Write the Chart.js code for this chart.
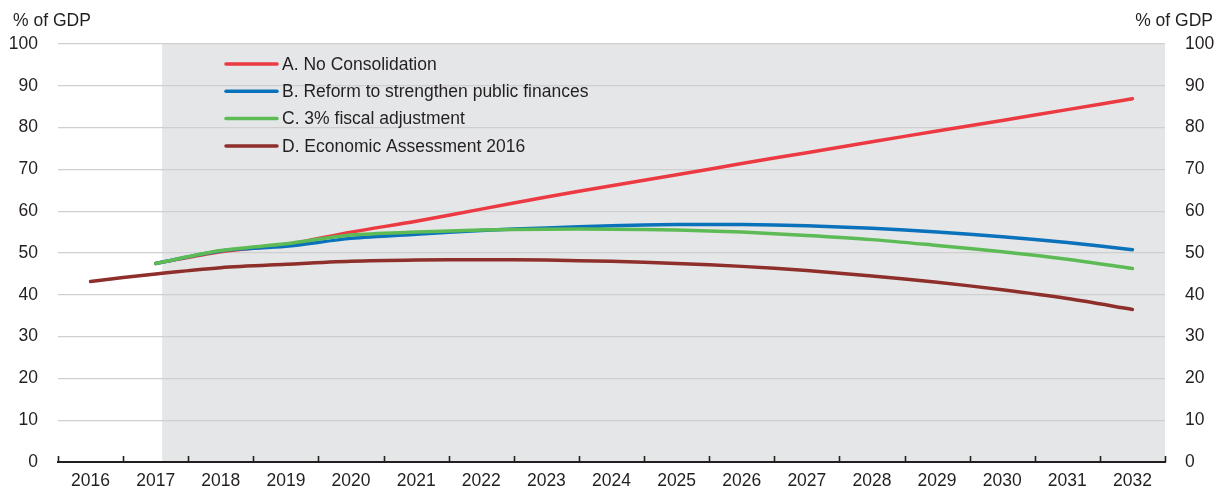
<!DOCTYPE html>
<html>
<head>
<meta charset="utf-8">
<script src="https://cdn.jsdelivr.net/npm/chart.js@4/dist/chart.umd.min.js"></script>
<style>
  body { margin: 0; background: #fff; }
  #wrap { width: 1216px; height: 489px; }
  canvas { display: block; }
</style>
</head>
<body>
<div id="wrap"><canvas id="debtChart" width="1216" height="489"></canvas></div>
<script>
const years = ['2016', '2017', '2018', '2019', '2020', '2021', '2022', '2023', '2024',
  '2025', '2026', '2027', '2028', '2029', '2030', '2031', '2032'];

const noConsolidation = [null, 47.5, 50.3, 52.0, 55.0, 57.6, 60.5, 63.4, 66.1, 68.7,
  71.4, 74.0, 76.6, 79.2, 81.7, 84.3, 86.9];
const reformPublicFinances = [null, 47.5, 50.5, 51.6, 53.5, 54.5, 55.4, 56.0, 56.5, 56.8,
  56.8, 56.5, 55.9, 55.0, 53.9, 52.5, 50.8];
const fiscalAdjustment = [null, 47.5, 50.6, 52.2, 54.3, 55.0, 55.5, 55.7, 55.7, 55.5,
  55.0, 54.2, 53.2, 51.8, 50.3, 48.5, 46.3];
const assessment2016 = [43.2, 45.0, 46.5, 47.3, 48.0, 48.3, 48.4, 48.3, 48.0, 47.5,
  46.8, 45.8, 44.5, 43.0, 41.2, 39.1, 36.5];

const yTicks = [0, 10, 20, 30, 40, 50, 60, 70, 80, 90, 100];
const unitLabel = '% of GDP';
const projectionStart = 1.1; // shading begins just after 2017

const textColor = '#231f20';
Chart.defaults.font.family = '"Liberation Sans", Arial, sans-serif';
Chart.defaults.font.size = 17.5;
Chart.defaults.color = textColor;

// grey projection band, drawn under the grid
const shadePlugin = {
  id: 'shade',
  beforeDraw(chart) {
    const { ctx, chartArea, scales } = chart;
    const x0 = scales.x.getPixelForValue(projectionStart);
    ctx.save();
    ctx.fillStyle = '#e5e6e8';
    ctx.fillRect(x0, chartArea.top, chartArea.right - x0, chartArea.bottom - chartArea.top);
    ctx.restore();
  }
};

// tick marks, unit labels and the in-plot legend
const decorPlugin = {
  id: 'decor',
  afterDraw(chart) {
    const { ctx, chartArea, scales } = chart;
    ctx.save();
    ctx.strokeStyle = textColor;
    ctx.lineWidth = 1.6;
    for (let i = 0; i <= years.length; i++) {
      const x = Math.round(scales.x.getPixelForValue(i - 0.5)) + 0.5;
      ctx.beginPath();
      ctx.moveTo(x, chartArea.bottom - 6);
      ctx.lineTo(x, chartArea.bottom);
      ctx.stroke();
    }

    ctx.fillStyle = textColor;
    ctx.font = '17.5px "Liberation Sans", Arial, sans-serif';
    ctx.textBaseline = 'middle';
    ctx.textAlign = 'left';
    ctx.fillText(unitLabel, 13, 21);
    ctx.textAlign = 'right';
    ctx.fillText(unitLabel, 1213, 21);

    ctx.textAlign = 'left';
    chart.data.datasets.forEach(function (ds, i) {
      const y = 64 + i * 27.3;
      ctx.strokeStyle = ds.borderColor;
      ctx.lineWidth = 3.5;
      ctx.lineCap = 'round';
      ctx.beginPath();
      ctx.moveTo(226, y);
      ctx.lineTo(277, y);
      ctx.stroke();
      ctx.fillStyle = textColor;
      ctx.fillText(ds.label, 282, y + 1);
    });
    ctx.restore();
  }
};

const lineStyle = {
  borderWidth: 3.5,
  pointRadius: 0,
  tension: 0.3,
  borderCapStyle: 'round',
  spanGaps: false
};

// fixed widths, and drop the extra vertical padding that tick padding adds
function fitYAxis(width) {
  return function (scale) {
    scale.width = width;
    scale.paddingTop = 0;
    scale.paddingBottom = 0;
  };
}

new Chart(document.getElementById('debtChart'), {
  type: 'line',
  data: {
    labels: years,
    datasets: [
      Object.assign({ label: 'A. No Consolidation', data: noConsolidation,
        borderColor: '#ec3a43', order: 2 }, lineStyle),
      Object.assign({ label: 'B. Reform to strengthen public finances', data: reformPublicFinances,
        borderColor: '#0a72bb', order: 1 }, lineStyle),
      Object.assign({ label: 'C. 3% fiscal adjustment', data: fiscalAdjustment,
        borderColor: '#5dbb55', order: 0 }, lineStyle),
      Object.assign({ label: 'D. Economic Assessment 2016', data: assessment2016,
        borderColor: '#8e2f2b', order: 3 }, lineStyle)
    ]
  },
  options: {
    responsive: false,
    animation: false,
    layout: { padding: { top: 44, right: 0, bottom: 0, left: 0 } },
    plugins: {
      legend: { display: false },
      tooltip: { enabled: false }
    },
    scales: {
      x: {
        offset: true,
        grid: { display: false, drawTicks: false },
        border: { display: true, color: textColor, width: 2 },
        ticks: { padding: 9, maxRotation: 0, autoSkip: false },
        afterFit: function (scale) { scale.height = 27; }
      },
      y: {
        position: 'left',
        min: 0,
        max: 100,
        afterBuildTicks: function (scale) {
          scale.ticks = yTicks.map(function (v) { return { value: v }; });
        },
        grid: {
          drawTicks: false,
          lineWidth: 1.3,
          color: function (c) { return c.tick.value === 0 ? 'rgba(0,0,0,0)' : '#cfcfcf'; }
        },
        border: { display: false },
        ticks: { padding: 20 },
        afterFit: fitYAxis(58)
      },
      y2: {
        position: 'right',
        min: 0,
        max: 100,
        afterBuildTicks: function (scale) {
          scale.ticks = yTicks.map(function (v) { return { value: v }; });
        },
        grid: { display: false, drawTicks: false },
        border: { display: false },
        ticks: { padding: 20 },
        afterFit: fitYAxis(51)
      }
    }
  },
  plugins: [shadePlugin, decorPlugin]
});
</script>
</body>
</html>
